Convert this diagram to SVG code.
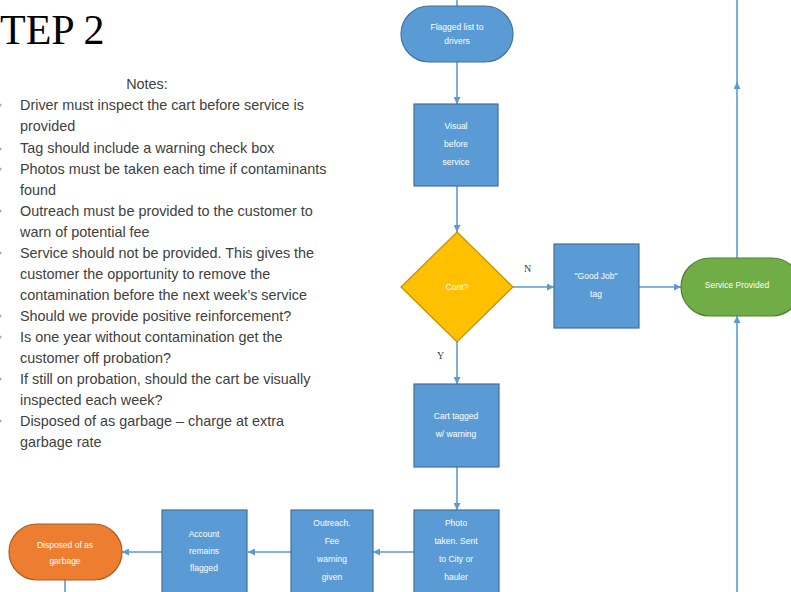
<svg xmlns="http://www.w3.org/2000/svg" width="791" height="592" viewBox="0 0 791 592">
<style>
.note{font-family:"Liberation Sans",Arial,sans-serif;font-size:14.4px;fill:#404040}
.nt{font-family:"Liberation Sans",Arial,sans-serif;font-size:8.5px;fill:#ffffff;text-anchor:middle}
.blue{fill:#5B9BD5;stroke:#41719C;stroke-width:1.2}
.dia{fill:#FFC000;stroke:#BF9000;stroke-width:1.2}
.green{fill:#70AD47;stroke:#507E32;stroke-width:1.2}
.orange{fill:#ED7D31;stroke:#AE5A21;stroke-width:1.2}
.con{stroke:#5B9BD5;stroke-width:1.6;fill:none}
.lbl{font-family:"Liberation Serif","Times New Roman",serif;font-size:10px;fill:#404040}
</style>
<defs>
<marker id="ah" viewBox="0 0 10 10" refX="10" refY="5" markerWidth="7" markerHeight="7" markerUnits="userSpaceOnUse" orient="auto">
<path d="M0,0 L10,5 L0,10 z" fill="#5B9BD5"/>
</marker>
</defs>
<rect width="791" height="592" fill="#ffffff"/>
<text x="0" y="44" font-family="Liberation Serif,'Times New Roman',serif" font-size="42" fill="#000">TEP 2</text>
<g id="notes">
<text class="note" x="147" y="89" text-anchor="middle">Notes:</text>
<g fill="#aaa">
<circle cx="0" cy="105" r="1.5"/><circle cx="0" cy="149" r="1.5"/><circle cx="0" cy="169" r="1.5"/><circle cx="0" cy="211" r="1.5"/><circle cx="0" cy="253" r="1.5"/><circle cx="0" cy="316" r="1.5"/><circle cx="0" cy="337" r="1.5"/><circle cx="0" cy="379" r="1.5"/><circle cx="0" cy="421" r="1.5"/>
</g>
<text class="note" x="20" y="110">Driver must inspect the cart before service is</text>
<text class="note" x="20" y="131">provided</text>
<text class="note" x="20" y="153">Tag should include a warning check box</text>
<text class="note" x="20" y="174">Photos must be taken each time if contaminants</text>
<text class="note" x="20" y="195">found</text>
<text class="note" x="20" y="216">Outreach must be provided to the customer to</text>
<text class="note" x="20" y="237">warn of potential fee</text>
<text class="note" x="20" y="258">Service should not be provided. This gives the</text>
<text class="note" x="20" y="279">customer the opportunity to remove the</text>
<text class="note" x="20" y="300">contamination before the next week’s service</text>
<text class="note" x="20" y="321">Should we provide positive reinforcement?</text>
<text class="note" x="20" y="342">Is one year without contamination get the</text>
<text class="note" x="20" y="363">customer off probation?</text>
<text class="note" x="20" y="384">If still on probation, should the cart be visually</text>
<text class="note" x="20" y="405">inspected each week?</text>
<text class="note" x="20" y="426">Disposed of as garbage – charge at extra</text>
<text class="note" x="20" y="447">garbage rate</text>
</g>
<g id="connectors">
<line class="con" x1="457" y1="0" x2="457" y2="6"/>
<line class="con" x1="457" y1="62" x2="457" y2="104" marker-end="url(#ah)"/>
<line class="con" x1="457" y1="186" x2="457" y2="232" marker-end="url(#ah)"/>
<line class="con" x1="513" y1="287" x2="554" y2="287" marker-end="url(#ah)"/>
<line class="con" x1="639" y1="287" x2="681" y2="287" marker-end="url(#ah)"/>
<line class="con" x1="737" y1="258" x2="737" y2="82" marker-end="url(#ah)"/>
<line class="con" x1="737" y1="84" x2="737" y2="0"/>
<line class="con" x1="737" y1="592" x2="737" y2="316" marker-end="url(#ah)"/>
<line class="con" x1="457" y1="342" x2="457" y2="384" marker-end="url(#ah)"/>
<line class="con" x1="457" y1="467" x2="457" y2="510" marker-end="url(#ah)"/>
<line class="con" x1="414" y1="552" x2="373" y2="552" marker-end="url(#ah)"/>
<line class="con" x1="291" y1="552" x2="248" y2="552" marker-end="url(#ah)"/>
<line class="con" x1="162" y1="552" x2="122" y2="552" marker-end="url(#ah)"/>
<line class="con" x1="65" y1="580" x2="65" y2="592"/>
<text class="lbl" x="524" y="272">N</text>
<text class="lbl" x="437" y="359">Y</text>
</g>
<g id="flagged">
<rect class="blue" x="401" y="6" width="112" height="56" rx="28"/>
<text class="nt" x="457" y="30">Flagged  list to</text>
<text class="nt" x="457" y="44">drivers</text>
</g>
<g id="visual">
<rect class="blue" x="414" y="104" width="84" height="82"/>
<text class="nt" x="456" y="129">Visual</text>
<text class="nt" x="456" y="147">before</text>
<text class="nt" x="456" y="165">service</text>
</g>
<g id="cont">
<polygon class="dia" points="457,232 513,287 457,342 401,287"/>
<text class="nt" x="457" y="290">Cont?</text>
</g>
<g id="goodjob">
<rect class="blue" x="554" y="244" width="85" height="84"/>
<text class="nt" x="596" y="279">"Good Job"</text>
<text class="nt" x="596" y="297">tag</text>
</g>
<g id="service">
<rect class="green" x="681" y="258" width="120" height="58" rx="29"/>
<text class="nt" x="737" y="288" font-size="8px">Service   Provided</text>
</g>
<g id="carttagged">
<rect class="blue" x="414" y="384" width="85" height="83"/>
<text class="nt" x="456" y="419">Cart tagged</text>
<text class="nt" x="456" y="437">w/ warning</text>
</g>
<g id="photo">
<rect class="blue" x="414" y="510" width="85" height="90"/>
<text class="nt" x="456" y="526">Photo</text>
<text class="nt" x="456" y="544">taken. Sent</text>
<text class="nt" x="456" y="562">to City or</text>
<text class="nt" x="456" y="580">hauler</text>
</g>
<g id="outreach">
<rect class="blue" x="291" y="510" width="82" height="90"/>
<text class="nt" x="332" y="526">Outreach.</text>
<text class="nt" x="332" y="544">Fee</text>
<text class="nt" x="332" y="562">warning</text>
<text class="nt" x="332" y="580">given</text>
</g>
<g id="account">
<rect class="blue" x="162" y="510" width="85" height="90"/>
<text class="nt" x="204" y="537">Account</text>
<text class="nt" x="204" y="554">remains</text>
<text class="nt" x="204" y="571">flagged</text>
</g>
<g id="disposed">
<rect class="orange" x="9" y="524" width="113" height="56" rx="28"/>
<text class="nt" x="65" y="548">Disposed of as</text>
<text class="nt" x="65" y="564">garbage</text>
</g>
</svg>
